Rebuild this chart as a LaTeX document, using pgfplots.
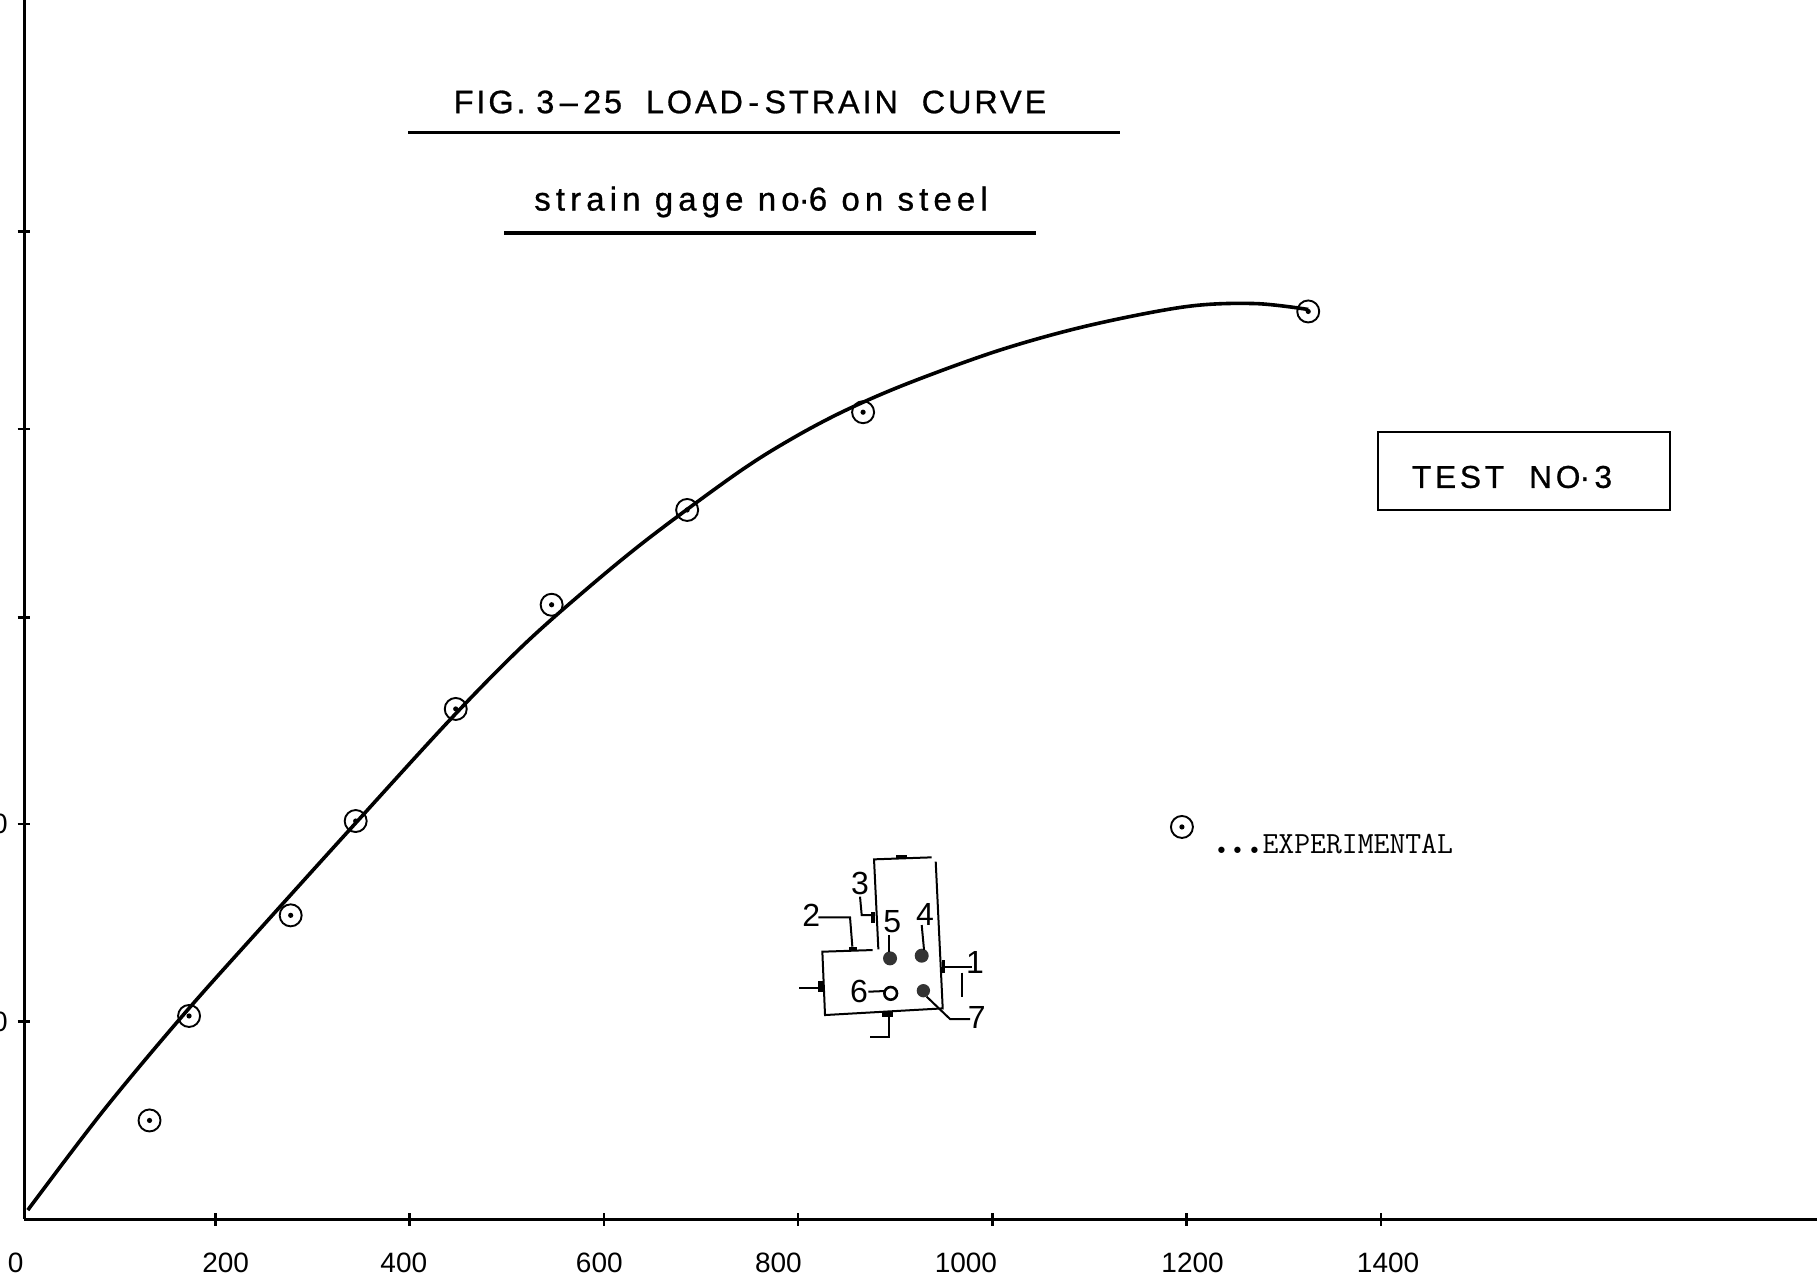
\documentclass[border=0pt]{standalone}
\usepackage{pgfplots}
\usepackage{pgfplotstable}
\usepackage{fontspec}
\pgfplotsset{compat=1.18}
\setmainfont{Liberation Sans}
\newfontfamily\lsp[LetterSpace=9,FakeBold=0.8]{Liberation Sans}
\newfontfamily\lspc[LetterSpace=15.5,FakeBold=0.8]{Liberation Sans}
\newfontfamily\lspb[LetterSpace=12,FakeBold=0.8]{Liberation Sans}
\newcommand\tl[2]{\makebox[0pt][c]{\hspace*{#1}#2}}
\newcommand\bd{\makebox[8.2pt][c]{\fontsize{28}{28}\selectfont.}}
\newcommand\md{\raisebox{3.5pt}{.}}
\pgfdeclareplotmark{cdot}{%
  \pgfpathcircle{\pgfpointorigin}{\pgfplotmarksize}\pgfusepathqstroke
  \pgfpathcircle{\pgfpointorigin}{1.3pt}\pgfusepathqfill}
\pgfplotstableread{
x y
132.3 9.98
173 20.56
277.6 30.75
344.5 40.3
447.5 51.65
546.2 62.2
685.7 71.8
866.8 81.7
1325 91.9
}\expdata
\pgfplotstableread{
x y
7 0.9
85 11
170 21
255 30.35
339 39.5
442 50.6
516 58
580 63.6
647 69
739 75.65
795 79.1
849 81.9
914 84.66
1008 88
1100 90.5
1200 92.4
1270 92.7
1325 92.1
}\curve
\begin{document}
\begin{tikzpicture}
\useasboundingbox (0,0) rectangle (908.5pt,641pt);
\clip (0,0) rectangle (908.5pt,641pt);
\begin{axis}[
  at={(10.5pt,31.5pt)}, anchor=south west,
  scale only axis, width=898pt, height=609.5pt,
  xmin=0, xmax=1848.7, ymin=0, ymax=123.44,
  axis lines=left,
  axis line style={-, line width=1.5pt, black},
  y axis line style={xshift=1.5pt},
  x axis line style={shorten <=1.5pt},
  xtick={200,400,600,800,1000,1200,1400},
  xticklabels={\tl{10.4pt}{200},\tl{-5.8pt}{400},\tl{-4.6pt}{600},\tl{-19.8pt}{800},\tl{-26.6pt}{1000},\tl{5.8pt}{1200},\tl{7pt}{1400}},
  extra x ticks={0},
  extra x tick labels={\tl{-5.4pt}{0}},
  extra x tick style={major tick length=0pt, tick label style={yshift=-3.3pt}},
  ytick={20,40,60.9,80,100},
  yticklabels={20,40,,,},
  tick align=center,
  major tick length=6.5pt,
  tick style={line width=1.3pt, black},
  y tick style={xshift=1.5pt},
  x tick label style={font=\fontsize{14}{14}\selectfont, yshift=-10pt},
  y tick label style={font=\fontsize{14}{14}\selectfont, anchor=east, inner sep=0pt, xshift=-3.2pt},
]
\addplot[black, line width=1.8pt, smooth, tension=0.55, no marks] table[x=x,y=y] {\curve};
\addplot[only marks, mark=cdot, mark size=5.5pt, mark options={line width=0.95pt, black}] table[x=x,y=y] {\expdata};
\addplot[only marks, mark=cdot, mark size=5.5pt, mark options={line width=0.95pt, black}] coordinates {(1195,39.7)};
\end{axis}
% annotation layer: coordinates in reference pixels, y downward
\begin{scope}[x=0.5pt,y=-0.5pt,shift={(0pt,641pt)}]
  \node at (750,102) {\lsp\fontsize{16.2}{16.2}\selectfont FIG.\,\,3\,–\,25\ \ LOAD\,-\,STRAIN\ \ CURVE};
  \draw[line width=1.5pt] (408,133) -- (1120,133);
  \node at (761,202) {\lspc\fontsize{16.5}{16.5}\selectfont strain gage no\md 6 on steel};
  \draw[line width=1.7pt] (504,233) -- (1036,233);
  \draw[line width=1.4pt] (1378,432) rectangle (1670,510);
  \node at (1512,477) {\lspb\fontsize{15.8}{15.8}\selectfont TEST\ \ NO\md\,3};
  \node[anchor=west,inner sep=0pt] at (1213,844) {\ttfamily\addfontfeature{FakeBold=0.5}\fontsize{15.4}{15.4}\selectfont\bd\bd\bd EXPERIMENTAL};
\end{scope}
% inset cross-section, coordinates from a 3x crop at (750,780)
\begin{scope}[x=0.1667pt,y=-0.1667pt,shift={(375pt,641pt-390pt)},line width=1pt]
  \draw (545,232) -- (372,238) -- (385,508);
  \draw (557,245) -- (578,685) -- (225,705) -- (217,515) -- (368,510);
  \fill (438,224) rectangle (470,236);
  \fill (364,395) rectangle (376,428);
  \fill (298,500) rectangle (322,512);
  \fill (204,604) rectangle (220,636);
  \fill (396,696) rectangle (430,710);
  \fill (576,540) rectangle (586,578);
  \fill[black!80] (420,535) circle (21);
  \fill[black!80] (515,527) circle (21);
  \draw[line width=1.3pt] (422,640) circle (19);
  \fill[black!80] (520,632) circle (20);
  \draw (417,465) -- (417,515);
  \draw (515,435) -- (522,510);
  \draw (355,635) -- (403,633);
  \draw (530,650) -- (600,717) -- (660,717);
  \draw (582,560) -- (665,560);
  \draw (637,578) -- (637,650);
  \draw (205,412) -- (300,412) -- (307,500);
  \draw (330,350) -- (335,405) -- (365,405);
  \draw (148,625) -- (204,625);
  \draw (360,772) -- (417,772) -- (417,710);
  \node[font=\fontsize{16}{16}\selectfont] at (330,310) {3};
  \node[font=\fontsize{16}{16}\selectfont] at (184,405) {2};
  \node[font=\fontsize{16}{16}\selectfont] at (427,425) {5};
  \node[font=\fontsize{16}{16}\selectfont] at (525,402) {4};
  \node[font=\fontsize{16}{16}\selectfont] at (327,635) {6};
  \node[font=\fontsize{16}{16}\selectfont] at (675,548) {1};
  \node[font=\fontsize{16}{16}\selectfont] at (680,712) {7};
\end{scope}
\end{tikzpicture}
\end{document}
